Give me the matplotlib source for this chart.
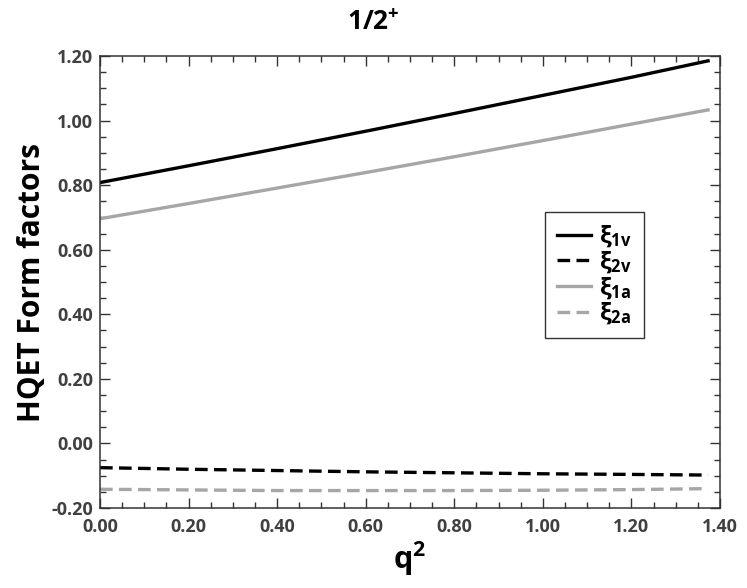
import matplotlib
matplotlib.use("Agg")
import matplotlib.pyplot as plt
from matplotlib.ticker import MultipleLocator, FormatStrFormatter

plt.rcParams['font.family'] = ['Open Sans', 'DejaVu Sans']
plt.rcParams['mathtext.fontset'] = 'custom'
plt.rcParams['mathtext.rm'] = 'Open Sans:bold'
plt.rcParams['mathtext.it'] = 'Open Sans:bold'
plt.rcParams['mathtext.bf'] = 'Open Sans:bold'
plt.rcParams['axes.unicode_minus'] = True

q2 = [0.0, 0.2, 0.4, 0.6, 0.8, 1.0, 1.2, 1.373]
xi_1v = [0.808, 0.860, 0.913, 0.967, 1.022, 1.078, 1.134, 1.185]
xi_2v = [-0.075, -0.080, -0.084, -0.088, -0.091, -0.094, -0.096, -0.098]
xi_1a = [0.696, 0.743, 0.791, 0.839, 0.888, 0.938, 0.989, 1.033]
xi_2a = [-0.142, -0.144, -0.146, -0.146, -0.146, -0.145, -0.143, -0.140]

labels = [r'$\xi_{1v}$', r'$\xi_{2v}$', r'$\xi_{1a}$', r'$\xi_{2a}$']
title = r'1/2$^{+}$'
xlabel = r'q$^{2}$'
ylabel = 'HQET Form factors'

fig = plt.figure(figsize=(7.47, 5.88), dpi=100)
ax = fig.add_axes([100/747, 1-508/588, 620/747, 452/588])

gray = '#a6a6a6'
lw = 2.4
ax.plot(q2, xi_1v, color='black', lw=lw, label=labels[0])
ax.plot(q2, xi_2v, color='black', lw=lw, dashes=(3.8, 1.9), label=labels[1])
ax.plot(q2, xi_1a, color=gray, lw=lw, label=labels[2])
ax.plot(q2, xi_2a, color=gray, lw=lw, dashes=(3.8, 1.9), label=labels[3])

ax.set_xlim(0, 1.4)
ax.set_ylim(-0.2, 1.2)
ax.xaxis.set_major_locator(MultipleLocator(0.2))
ax.xaxis.set_minor_locator(MultipleLocator(0.05))
ax.yaxis.set_major_locator(MultipleLocator(0.2))
ax.yaxis.set_minor_locator(MultipleLocator(0.05))
ax.xaxis.set_major_formatter(FormatStrFormatter('%.2f'))
ax.yaxis.set_major_formatter(FormatStrFormatter('%.2f'))

spine_c = '#333333'
for s in ax.spines.values():
    s.set_color(spine_c)
    s.set_linewidth(1.1)
ax.tick_params(which='both', direction='in', top=True, right=True, color=spine_c, width=1.0)
ax.tick_params(which='major', length=7)
ax.tick_params(which='minor', length=4.5)
ax.tick_params(axis='y', which='major', labelsize=13, labelcolor='#404040', pad=5)
ax.tick_params(axis='x', which='major', labelsize=13, labelcolor='#404040', pad=7)
for lab in ax.get_xticklabels() + ax.get_yticklabels():
    lab.set_fontweight('bold')

ax.set_xlabel(xlabel, fontsize=22, fontweight='bold', labelpad=3)
ax.set_ylabel(ylabel, fontsize=21.5, fontweight='bold', labelpad=3)
fig.text(0.5, 1-23/588, title, ha='center', va='center', fontsize=19, fontweight='bold')

leg = ax.legend(loc='upper left', bbox_to_anchor=((545-100)/620, (508-212)/452),
                fontsize=17, frameon=True, fancybox=False, edgecolor='#333333',
                handlelength=1.45, handletextpad=0.35, labelspacing=0.0,
                borderpad=0.5, borderaxespad=0.0, framealpha=1)
leg.get_frame().set_linewidth(1.0)

fig.savefig('out.png', dpi=100)
